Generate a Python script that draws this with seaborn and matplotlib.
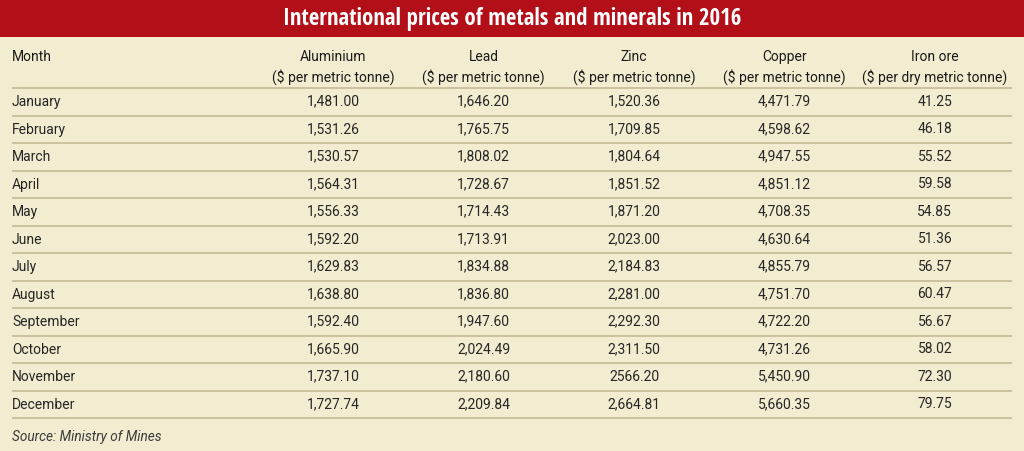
import numpy as np
import pandas as pd
import matplotlib
matplotlib.use("Agg")
import matplotlib.pyplot as plt
import matplotlib.transforms as mtransforms
from matplotlib.colors import ListedColormap
from matplotlib.patches import Rectangle
import seaborn as sns


# table content, as printed
title = "International prices of metals and minerals in 2016"
source = "Source: Ministry of Mines"
months = ["January", "February", "March", "April", "May", "June", "July",
          "August", "September", "October", "November", "December"]
columns = ["Aluminium", "Lead", "Zinc", "Copper", "Iron ore"]
units = ["($ per metric tonne)", "($ per metric tonne)", "($ per metric tonne)",
         "($ per metric tonne)", "($ per dry metric tonne)"]
aluminium = ["1,481.00", "1,531.26", "1,530.57", "1,564.31", "1,556.33", "1,592.20",
             "1,629.83", "1,638.80", "1,592.40", "1,665.90", "1,737.10", "1,727.74"]
lead = ["1,646.20", "1,765.75", "1,808.02", "1,728.67", "1,714.43", "1,713.91",
        "1,834.88", "1,836.80", "1,947.60", "2,024.49", "2,180.60", "2,209.84"]
zinc = ["1,520.36", "1,709.85", "1,804.64", "1,851.52", "1,871.20", "2,023.00",
        "2,184.83", "2,281.00", "2,292.30", "2,311.50", "2566.20", "2,664.81"]
copper = ["4,471.79", "4,598.62", "4,947.55", "4,851.12", "4,708.35", "4,630.64",
          "4,855.79", "4,751.70", "4,722.20", "4,731.26", "5,450.90", "5,660.35"]
iron_ore = ["41.25", "46.18", "55.52", "59.58", "54.85", "51.36",
            "56.57", "60.47", "56.67", "58.02", "72.30", "79.75"]

BG = "#f2ecd0"
RED = "#b20f18"
RULE = "#c4ba96"
INK = "#262626"

labels = pd.DataFrame(dict(zip(columns, [aluminium, lead, zinc, copper, iron_ore])), index=months)
values = labels.apply(lambda col: col.str.replace(",", "").astype(float))

sns.set_theme(style="white")
plt.rcParams["font.family"] = ["Roboto", "DejaVu Sans"]

W, H = 1024, 451
fig = plt.figure(figsize=(W / 100, H / 100), dpi=100, facecolor=BG)

# value cells: x 258..1010 px, y 88..418 px
ax = fig.add_axes([258 / W, 1 - 418 / H, 752 / W, 330 / H])
sns.heatmap(values, ax=ax, cmap=ListedColormap([BG]), cbar=False,
            annot=labels.values, fmt="", xticklabels=False, yticklabels=False,
            annot_kws={"fontsize": 10, "color": INK})
ax.set_xlabel("")
ax.set_ylabel("")
for s in ax.spines.values():
    s.set_visible(False)

row_tf = mtransforms.blended_transform_factory(fig.transFigure, ax.transData)

# horizontal rules between rows
ax.hlines(np.arange(len(months) + 1), 12 / W, 1012 / W, transform=row_tf,
          color=RULE, lw=1.2, clip_on=False)

# month names in the first column
for i, m in enumerate(months):
    ax.text(12 / W, i + 0.52, m, transform=row_tf, ha="left", va="center",
            fontsize=10, color=INK, clip_on=False)

# header
head_tf = mtransforms.blended_transform_factory(ax.transData, fig.transFigure)
ax.text(12 / W, 1 - 57 / H, "Month", transform=fig.transFigure, ha="left",
        va="center", fontsize=10, color="#1a1a1a")
for j, (c, u) in enumerate(zip(columns, units)):
    ax.text(j + 0.5, 1 - 57 / H, c, transform=head_tf, ha="center", va="center",
            fontsize=10, color="#1a1a1a", clip_on=False)
    ax.text(j + 0.5, 1 - 77 / H, u, transform=head_tf, ha="center", va="center",
            fontsize=10, color="#1a1a1a", clip_on=False)

# title banner
fig.patches.append(Rectangle((0, 1 - 37 / H), 1, 37 / H, transform=fig.transFigure,
                             facecolor=RED, edgecolor="none", zorder=0))
fig.text(0.5, 1 - 19 / H, title, ha="center", va="center", color="white",
         fontsize=16.4, weight="bold", family=["Open Sans Condensed", "DejaVu Sans"])

fig.text(12 / W, 1 - 437 / H, source, ha="left", va="center", fontsize=9.8,
         style="italic", color="#3a3a3a")

fig.savefig("out.png", dpi=100, facecolor=BG)
